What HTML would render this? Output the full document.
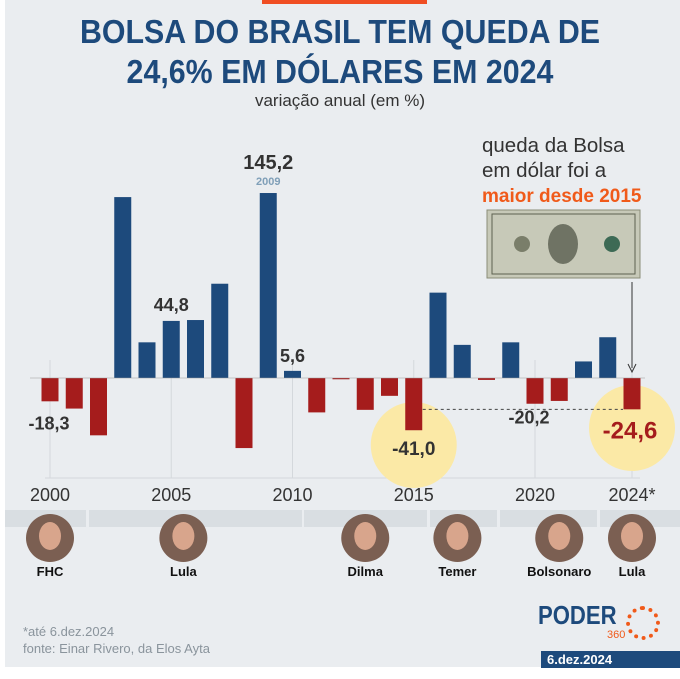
<!DOCTYPE html>
<html><head><meta charset="utf-8"><style>
body{margin:0;width:680px;height:679px;background:#fff;font-family:"Liberation Sans",sans-serif;overflow:hidden}
#bg{position:absolute;left:5px;top:0;width:675px;height:667px;background:#eaedf0}
.t{position:absolute;white-space:nowrap}
</style></head><body>
<div id="bg"></div>
<div class="t" style="left:262px;top:0;width:165px;height:4px;background:#f04e23"></div>
<div class="t" style="left:0;width:680px;top:12px;text-align:center;font-size:33px;font-weight:bold;color:#1d4a7c;line-height:40px;transform:scaleX(0.92)">BOLSA DO BRASIL TEM QUEDA DE<br>24,6% EM DÓLARES EM 2024</div>
<div class="t" style="left:0;width:680px;top:91px;text-align:center;font-size:17px;color:#333">variação anual (em %)</div>
<svg id="chart" width="680" height="679" style="position:absolute;left:0;top:0"></svg>
<div class="t" style="left:482px;top:133px;font-size:20.5px;line-height:25px;color:#333">queda da Bolsa<br>em dólar foi a<br><b style="color:#f05a1a;font-size:19px">maior desde 2015</b></div>
<div class="t" style="left:23px;top:623px;font-size:13px;line-height:17px;color:#8a949c">*até 6.dez.2024<br>fonte: Einar Rivero, da Elos Ayta</div>
<div class="t" style="left:538px;top:600px;font-size:26px;font-weight:bold;color:#1d4a7c;transform:scaleX(0.85);transform-origin:left">PODER</div>
<div class="t" style="left:607px;top:629px;font-size:11px;color:#f05a1a">360</div>
<div class="t" style="left:626px;top:606px;width:26px;height:26px;border-radius:50%;border:4px dotted #f05a1a"></div>
<div class="t" style="left:541px;top:651px;width:139px;height:17px;background:#1d4a7c;color:#fff;font-size:13px;font-weight:bold;padding-left:6px;line-height:17px">6.dez.2024</div>
<script>
const years=[2000,2001,2002,2003,2004,2005,2006,2007,2008,2009,2010,2011,2012,2013,2014,2015,2016,2017,2018,2019,2020,2021,2022,2023,2024];
const values=[-18.3,-24,-45,142,28,44.8,45.5,74,-55,145.2,5.6,-27,-1,-25,-14,-41,67,26,-1.5,28,-20.2,-18,13,32,-24.6];
const tickYears=[2000,2005,2010,2015,2020,2024];
const tickLabels=["2000","2005","2010","2015","2020","2024*"];
const presidents=["FHC","Lula","Dilma","Temer","Bolsonaro","Lula"];
const presYears=[2000,2005.5,2013,2016.8,2021,2024];
const NS="http://www.w3.org/2000/svg";
const svg=document.getElementById('chart');
const x=y=>50+(y-2000)*24.25;
const yv=v=>378-v*1.274;
function mk(tag,at,par){const e=document.createElementNS(NS,tag);for(const k in at)e.setAttribute(k,at[k]);(par||svg).appendChild(e);return e;}
const segs=[[5,86],[89,302],[304,427],[430,497],[500,597],[600,680]];
segs.forEach(s=>{const r=mk('rect',{x:s[0],y:510,width:s[1]-s[0],height:17,fill:'#d9dee2'});

});
tickYears.forEach((t,i)=>{const l=mk('line',{x1:x(t),x2:x(t),y1:360,y2:478,stroke:'#d4d8dc'});


const tx=mk('text',{x:x(t),y:501,'text-anchor':'middle','font-size':18,fill:'#333','font-family':'Liberation Sans'});tx.textContent=tickLabels[i];

});
mk('line',{x1:45,x2:640,y1:478,y2:478,stroke:'#d4d8dc'});
[2015,2024].forEach(yr=>{const c=mk('circle',{cx:x(yr),cy:yr==2015?445:428,r:43,fill:'#fbe9a6'});

});
years.forEach((yr,i)=>{const v=values[i];const y0=yv(Math.max(v,0)),h=Math.abs(v)*1.274;
const r=mk('rect',{x:x(yr)-8.5,y:y0,width:17,height:Math.max(h,1),fill:v>=0?'#1d4a7c':'#a51c1c'});

});
mk('line',{x1:30,x2:645,y1:378,y2:378,stroke:'#999','stroke-width':0.6});
mk('line',{x1:x(2015)+9,x2:x(2024)-9,y1:yv(values[24]),y2:yv(values[24]),stroke:'#444','stroke-dasharray':'3,3'});
function lab(txt,xx,yy,sz,col,nm){const t=mk('text',{x:xx,y:yy,'text-anchor':'middle','font-size':sz,'font-weight':'bold',fill:col,'font-family':'Liberation Sans'});t.textContent=txt;

}
lab('-18,3',x(2000)-1,yv(values[0])+28,18,'#333','label-2000');
lab('44,8',x(2005),yv(values[5])-10,18,'#333','label-2005');
lab('145,2',x(2009),yv(values[9])-24,20,'#333','label-2009');
lab('2009',x(2009),yv(values[9])-8,11,'#7f9fb8','label-2009-year');
lab('5,6',x(2010),yv(values[10])-9,18,'#333','label-2010');
lab('-41,0',x(2015),yv(values[15])+25,19,'#333','label-2015');
lab('-20,2',x(2020)-6,yv(values[20])+20,18,'#333','label-2020');
lab('-24,6',x(2024)-2,yv(values[24])+29,24,'#a51c1c','label-2024');
mk('line',{x1:x(2024),x2:x(2024),y1:282,y2:368,stroke:'#333','stroke-width':1});
mk('path',{d:`M${x(2024)-4},364 L${x(2024)},372 L${x(2024)+4},364`,fill:'none',stroke:'#333'});
const g=mk('g',{});
mk('rect',{x:487,y:210,width:153,height:68,fill:'#c7c9b8',stroke:'#8b8d77'},g);
mk('rect',{x:492,y:214,width:143,height:60,fill:'none',stroke:'#5d6150'},g);
mk('ellipse',{cx:563,cy:244,rx:15,ry:20,fill:'#6f7364'},g);
mk('circle',{cx:522,cy:244,r:8,fill:'#7a7e6a'},g);
mk('circle',{cx:612,cy:244,r:8,fill:'#3d6a55'},g);
presidents.forEach((p,i)=>{const cx=x(presYears[i]);
const c=mk('ellipse',{cx:cx,cy:538,rx:24,ry:24,fill:'#7b5f52'});


mk('ellipse',{cx:cx,cy:536,rx:11,ry:14,fill:'#d8a58c'});
const t=mk('text',{x:cx,y:576,'text-anchor':'middle','font-size':13,'font-weight':'bold',fill:'#111','font-family':'Liberation Sans'});t.textContent=p;

});
</script>
</body></html>
